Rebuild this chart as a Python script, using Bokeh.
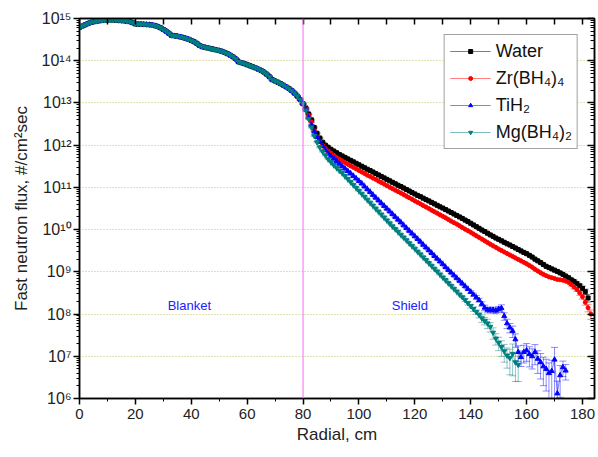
from bokeh.plotting import figure
from bokeh.models import (ColumnDataSource, Whisker, TeeHead, Span, Legend, LegendItem,
                          LinearAxis, LogAxis, Range1d, FixedTicker, Label)
from bokeh.embed import file_html
from bokeh.resources import INLINE

# ---------------- data (log10 of fast neutron flux, #/cm^2 sec), 1 cm radial step ----------------
blanket_start_cm = 0
blanket_log = [
    14.79, 14.82, 14.85, 14.88, 14.905, 14.92, 14.935, 14.945, 14.955, 14.96,
    14.965, 14.967, 14.965, 14.96, 14.955, 14.95, 14.945, 14.935, 14.925, 14.90,
    14.87, 14.865, 14.865, 14.862, 14.858, 14.853, 14.845, 14.83, 14.81, 14.78,
    14.74, 14.70, 14.65, 14.60, 14.59, 14.58, 14.565, 14.55, 14.53, 14.51,
    14.48, 14.45, 14.41, 14.36, 14.33, 14.315, 14.30, 14.285, 14.27, 14.255,
    14.24, 14.22, 14.195, 14.165, 14.13, 14.09, 14.04, 13.97, 13.95, 13.93,
    13.905, 13.88, 13.855, 13.83, 13.80, 13.77, 13.73, 13.68, 13.62, 13.55,
    13.52, 13.49, 13.455, 13.42, 13.38, 13.34, 13.29, 13.23, 13.16, 13.08,
    12.98]

water_shield_log = [
    12.88, 12.74, 12.60, 12.42, 12.28, 12.17, 12.07, 12.00, 11.95, 11.90,
    11.86, 11.82, 11.78, 11.745, 11.71, 11.675, 11.64, 11.605, 11.57, 11.535,
    11.50, 11.465, 11.43, 11.40, 11.365, 11.33, 11.295, 11.26, 11.225, 11.19,
    11.155, 11.12, 11.085, 11.05, 11.02, 10.985, 10.95, 10.915, 10.88, 10.845,
    10.81, 10.78, 10.745, 10.71, 10.68, 10.645, 10.61, 10.575, 10.54, 10.51,
    10.475, 10.44, 10.405, 10.37, 10.335, 10.30, 10.265, 10.225, 10.19, 10.15,
    10.11, 10.07, 10.03, 9.99, 9.955, 9.915, 9.875, 9.84, 9.80, 9.77,
    9.735, 9.70, 9.665, 9.635, 9.60, 9.565, 9.53, 9.495, 9.46, 9.43,
    9.39, 9.35, 9.30, 9.26, 9.22, 9.175, 9.13, 9.10, 9.07, 9.04,
    9.01, 8.975, 8.94, 8.90, 8.86, 8.81, 8.77, 8.72, 8.67, 8.61,
    8.53, 8.38]

zr_shield_log = [
    12.86, 12.71, 12.55, 12.34, 12.20, 12.09, 11.99, 11.92, 11.86, 11.81,
    11.76, 11.71, 11.67, 11.63, 11.59, 11.55, 11.51, 11.475, 11.44, 11.40,
    11.365, 11.33, 11.29, 11.26, 11.22, 11.19, 11.15, 11.115, 11.08, 11.04,
    11.005, 10.97, 10.935, 10.90, 10.865, 10.83, 10.79, 10.755, 10.72, 10.68,
    10.645, 10.61, 10.57, 10.535, 10.50, 10.46, 10.425, 10.39, 10.35, 10.315,
    10.28, 10.24, 10.20, 10.165, 10.13, 10.09, 10.05, 10.01, 9.975, 9.935,
    9.895, 9.855, 9.815, 9.775, 9.735, 9.695, 9.655, 9.615, 9.58, 9.54,
    9.505, 9.47, 9.435, 9.40, 9.365, 9.33, 9.295, 9.26, 9.225, 9.19,
    9.15, 9.11, 9.06, 9.02, 8.98, 8.94, 8.91, 8.88, 8.86, 8.84,
    8.82, 8.81, 8.80, 8.78, 8.75, 8.70, 8.64, 8.58, 8.50, 8.41,
    8.28, 8.15, 8.00]

tih2_shield_log = [
    12.84, 12.66, 12.48, 12.32, 12.19, 12.08, 11.98, 11.88, 11.80, 11.74,
    11.68, 11.62, 11.56, 11.50, 11.445, 11.385, 11.33, 11.27, 11.21, 11.15,
    11.09, 11.02, 10.955, 10.89, 10.82, 10.755, 10.69, 10.625, 10.56, 10.495,
    10.43, 10.365, 10.30, 10.235, 10.17, 10.10, 10.035, 9.97, 9.905, 9.84,
    9.775, 9.71, 9.64, 9.575, 9.51, 9.445, 9.375, 9.31, 9.245, 9.18,
    9.11, 9.045, 8.98, 8.915, 8.85, 8.785, 8.72, 8.655, 8.59, 8.525,
    8.46, 8.395, 8.33, 8.24, 8.15, 8.10, 8.10, 8.10, 8.08, 8.12,
    8.14, 7.95, 7.78, 7.68, 7.60, 7.40, 7.10, 6.98, 7.10, 7.14,
    7.05, 7.00, 7.10, 6.94, 6.86, 6.76, 6.70, 6.60, 6.65, 6.92,
    6.12, 6.55, 6.74, 6.66]

mg_shield_log = [
    12.82, 12.62, 12.42, 12.22, 12.07, 11.95, 11.85, 11.76, 11.67, 11.60,
    11.53, 11.465, 11.40, 11.34, 11.27, 11.20, 11.13, 11.06, 10.99, 10.92,
    10.85, 10.78, 10.71, 10.64, 10.57, 10.50, 10.43, 10.36, 10.29, 10.22,
    10.15, 10.08, 10.015, 9.95, 9.88, 9.815, 9.75, 9.68, 9.615, 9.55,
    9.48, 9.415, 9.345, 9.28, 9.21, 9.145, 9.075, 9.01, 8.94, 8.87,
    8.805, 8.735, 8.67, 8.60, 8.535, 8.465, 8.40, 8.33, 8.26, 8.19,
    8.12, 8.05, 7.98, 7.90, 7.84, 7.78, 7.70, 7.56, 7.42, 7.32,
    7.22, 7.12, 7.02, 6.96, 7.06, 6.86, 6.80]

# relative statistical errors (sigma / value); base value for all points, larger in the tails
base_rel_err = 0.03
water_tail_err = {176: 0.08, 177: 0.08, 178: 0.1, 179: 0.1, 180: 0.12, 181: 0.15, 182: 0.2}
zr_tail_err = {176: 0.08, 177: 0.1, 178: 0.1, 179: 0.12, 180: 0.12, 181: 0.15, 182: 0.2, 183: 0.25}
tih2_tail_err = {140: 0.08, 141: 0.08, 142: 0.1, 143: 0.1, 144: 0.12, 145: 0.15, 146: 0.15,
                 147: 0.15, 148: 0.15, 149: 0.15, 150: 0.15, 151: 0.2, 152: 0.2, 153: 0.25,
                 154: 0.25, 155: 0.3, 156: 0.35, 157: 0.4, 158: 0.4, 159: 0.45, 160: 0.45,
                 161: 0.5, 162: 0.5, 163: 0.5, 164: 0.55, 165: 0.6, 166: 0.65, 167: 0.7,
                 168: 0.75, 169: 0.8, 170: 0.95, 171: 0.95, 172: 0.7, 173: 0.4, 174: 0.4}
mg_tail_err = {138: 0.08, 139: 0.1, 140: 0.1, 141: 0.12, 142: 0.12, 143: 0.15, 144: 0.2,
               145: 0.2, 146: 0.25, 147: 0.25, 148: 0.3, 149: 0.3, 150: 0.35, 151: 0.4,
               152: 0.45, 153: 0.5, 154: 0.6, 155: 0.7, 156: 0.65, 157: 0.6}

series_names = ["Water", "Zr(BH\u2084)\u2084", "TiH\u2082", "Mg(BH\u2084)\u2082"]
x_major_ticks = [0, 20, 40, 60, 80, 100, 120, 140, 160, 180]
x_minor_ticks = [10, 30, 50, 70, 90, 110, 130, 150, 170]
y_decades = [6, 7, 8, 9, 10, 11, 12, 13, 14, 15]

FONT = "Liberation Sans"
SUP = "\u2070\u00b9\u00b2\u00b3\u2074\u2075\u2076\u2077\u2078\u2079"

y_major = [10.0 ** k for k in y_decades]
y_minor = [m * 10.0 ** k for k in y_decades[:-1] for m in range(2, 10)]


def make_source(shield_log, tail_err):
    logs = blanket_log + shield_log
    xs = list(range(blanket_start_cm, blanket_start_cm + len(logs)))
    ys = [10 ** v for v in logs]
    errs = [tail_err.get(x, base_rel_err) for x in xs]
    upper = [y * (1 + e) for y, e in zip(ys, errs)]
    lower = [y * (1 - e) for y, e in zip(ys, errs)]
    return ColumnDataSource(dict(x=xs, y=ys, upper=upper, lower=lower))


p = figure(width=598, height=457, y_axis_type="log",
           x_range=Range1d(0, 184.3), y_range=Range1d(1e6, 1e15),
           output_backend="svg", toolbar_location=None,
           min_border_left=79, min_border_top=18, min_border_right=3, min_border_bottom=59,
           x_axis_label="Radial, cm", y_axis_label="Fast neutron flux, #/cm\u00b2sec")
p.background_fill_color = "white"
p.border_fill_color = "white"
p.outline_line_color = "black"
p.outline_line_width = 1.5

# grids
p.xgrid.visible = False
p.ygrid.ticker = FixedTicker(ticks=y_major)
p.ygrid.grid_line_color = "#c2c266"
p.ygrid.grid_line_dash = "1 2"
p.ygrid.grid_line_width = 1

xa = p.xaxis[0]
xa.ticker = FixedTicker(ticks=x_major_ticks, minor_ticks=x_minor_ticks)
ya = p.yaxis[0]
ya.ticker = FixedTicker(ticks=y_major, minor_ticks=y_minor)
for ax in (xa, ya):
    ax.axis_line_width = 1.5
    ax.major_tick_line_width = 1.5
    ax.minor_tick_line_width = 1
    ax.major_tick_out = 6
    ax.major_tick_in = 0
    ax.minor_tick_out = 3
    ax.minor_tick_in = 0
    ax.major_label_text_font = FONT
    ax.major_label_text_font_size = "15px"
    ax.major_label_text_color = "#222222"
    ax.axis_label_text_font = FONT
    ax.axis_label_text_font_size = "17px"
    ax.axis_label_text_font_style = "normal"
    ax.axis_label_text_color = "#222222"
ya.major_label_text_font_size = "16px"
ya.major_label_overrides = {10.0 ** k: "10" + "".join(SUP[int(c)] for c in str(k)) for k in y_decades}
xa.major_label_standoff = 4
xa.axis_label_standoff = 3
ya.major_label_standoff = 2
ya.axis_label_standoff = 8

# top and right mirror axes (ticks inside, blank labels)
top_ticks = sorted(x_major_ticks + x_minor_ticks)
top = LinearAxis(ticker=FixedTicker(ticks=top_ticks),
                 major_label_overrides={t: " " for t in top_ticks},
                 major_label_text_font_size="2px", major_tick_in=6, major_tick_out=0,
                 minor_tick_in=0, minor_tick_out=0, axis_line_width=1.5, major_tick_line_width=1.5,
                 major_label_standoff=0)
p.add_layout(top, "above")
right = LogAxis(ticker=FixedTicker(ticks=y_major, minor_ticks=y_minor),
                major_label_overrides={t: " " for t in y_major},
                major_label_text_font_size="2px", major_tick_in=7, major_tick_out=0,
                minor_tick_in=4, minor_tick_out=0, axis_line_width=1.5, major_tick_line_width=1.5,
                major_label_standoff=0)
p.add_layout(right, "right")

# region boundary
p.add_layout(Span(location=80, dimension="height", line_color="#ff66ff", line_width=1))

styles = [
    ("#000000", "square", 4),
    ("#ff0000", "circle", 4),
    ("#0000ff", "triangle", 5),
    ("#007f7f", "inverted_triangle", 5),
]
datasets = [(water_shield_log, water_tail_err), (zr_shield_log, zr_tail_err),
            (tih2_shield_log, tih2_tail_err), (mg_shield_log, mg_tail_err)]

items = []
for name, (shield, tail), (color, marker, size) in zip(series_names, datasets, styles):
    src = make_source(shield, tail)
    w = Whisker(source=src, base="x", upper="upper", lower="lower", dimension="height",
                line_color=color, line_alpha=0.45, line_width=1,
                upper_head=TeeHead(size=7, line_color=color, line_alpha=0.45, line_width=1),
                lower_head=TeeHead(size=7, line_color=color, line_alpha=0.45, line_width=1))
    p.add_layout(w)
    ln = p.line("x", "y", source=src, line_color=color, line_width=1, line_alpha=0.5)
    sc = p.scatter("x", "y", source=src, marker=marker, size=size,
                   fill_color=color, line_color=color)
    items.append(LegendItem(label=name, renderers=[ln, sc]))

legend = Legend(items=items, location="top_right", border_line_color="#444444",
                border_line_width=1, label_text_font=FONT, label_text_font_size="18px",
                label_text_color="#111111", glyph_width=41, glyph_height=10, spacing=5,
                padding=5, margin=16, label_standoff=5, background_fill_alpha=1,
                label_height=22)
p.add_layout(legend)

p.add_layout(Label(x=39.3, y=1.6e8, text="Blanket", text_color="#2222ff", text_font=FONT,
                   text_font_size="13px", text_align="center", text_baseline="middle"))
p.add_layout(Label(x=118.2, y=1.6e8, text="Shield", text_color="#2222ff", text_font=FONT,
                   text_font_size="13px", text_align="center", text_baseline="middle"))

open("out.html", "w").write(file_html(p, INLINE))
